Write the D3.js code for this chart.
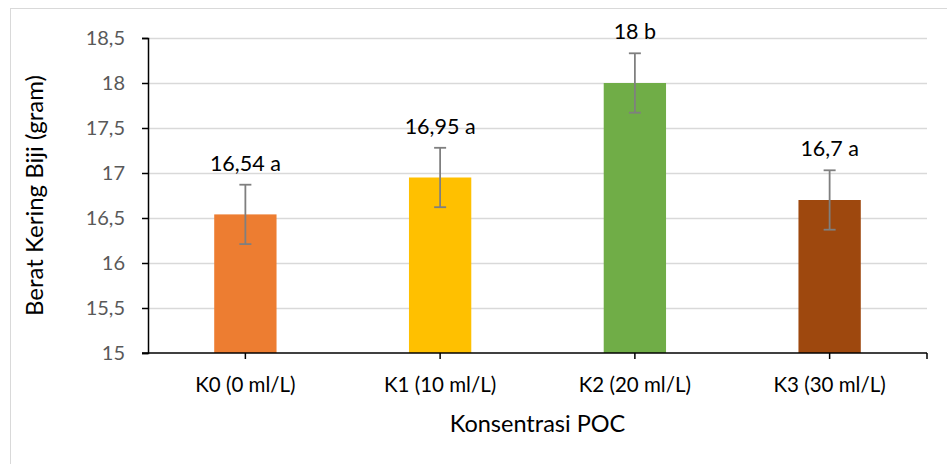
<!DOCTYPE html>
<html><head><meta charset="utf-8">
<script src="https://cdn.jsdelivr.net/npm/d3@7"></script>
<style>body{margin:0;background:#fff}svg{display:block}text{font-family:Lato,"Open Sans",sans-serif}</style>
</head><body><svg id="c" width="947" height="464"></svg>
<script>
const categories = ["K0 (0 ml/L)", "K1 (10 ml/L)", "K2 (20 ml/L)", "K3 (30 ml/L)"];
const values = [16.54, 16.95, 18, 16.7];
const errors = [0.33, 0.33, 0.33, 0.33];
const labels = ["16,54 a", "16,95 a", "18 b", "16,7 a"];
const colors = ["#ED7D31", "#FFC000", "#70AD47", "#9E480E"];
const yTicks = [15, 15.5, 16, 16.5, 17, 17.5, 18, 18.5];
const yTickLabels = ["15", "15,5", "16", "16,5", "17", "17,5", "18", "18,5"];
const xTitle = "Konsentrasi POC";
const yTitle = "Berat Kering Biji (gram)";

const svg = d3.select("#c");
const m = {l:148, r:927, t:38, b:353};
svg.append("rect").attr("x",10.5).attr("y",8.5).attr("width",960).attr("height",480)
  .attr("fill","#fff").attr("stroke","#d9d9d9").attr("stroke-width",1);

const x = d3.scaleBand().domain(categories).range([m.l, m.r]).paddingInner(0.68).paddingOuter(0.34);
const y = d3.scaleLinear().domain([15, 18.5]).range([m.b, m.t]);

// gridlines
svg.append("g").selectAll("line").data(yTicks.slice(1)).join("line")
  .attr("x1", m.l).attr("x2", m.r).attr("y1", d=>Math.round(y(d))+0.5).attr("y2", d=>Math.round(y(d))+0.5)
  .attr("stroke","#d9d9d9").attr("stroke-width",1.5);

// bars
svg.append("g").selectAll("rect").data(values).join("rect")
  .attr("x",(d,i)=>x(categories[i])).attr("width",x.bandwidth())
  .attr("y",d=>y(d)).attr("height",d=>y(15)-y(d)).attr("fill",(d,i)=>colors[i]);

// y axis
const yAxis = d3.axisLeft(y).tickValues(yTicks).tickFormat((d,i)=>yTickLabels[i]).tickSize(6).tickPadding(17);
const gy = svg.append("g").attr("transform",`translate(${m.l},0)`).call(yAxis);
gy.select(".domain").attr("stroke","#000").attr("stroke-width",1.5);
gy.selectAll(".tick line").attr("stroke","#000").attr("stroke-width",1.5);
gy.selectAll(".tick text").attr("fill","#595959").attr("font-size",20).attr("font-family","Lato");

// x axis
const gx = svg.append("g").attr("transform",`translate(0,${m.b})`);
gx.append("line").attr("x1",m.l-6).attr("x2",m.r).attr("stroke","#000").attr("stroke-width",1.5);
gx.selectAll("line.t").data(categories).join("line").attr("class","t")
  .attr("x1",d=>x(d)+x.bandwidth()/2).attr("x2",d=>x(d)+x.bandwidth()/2).attr("y1",0).attr("y2",6)
  .attr("stroke","#000").attr("stroke-width",1.5);
gx.append("line").attr("x1",m.r).attr("x2",m.r).attr("y1",0).attr("y2",6).attr("stroke","#000").attr("stroke-width",1.5);
gx.selectAll("text").data(categories).join("text")
  .attr("x",d=>x(d)+x.bandwidth()/2).attr("y",39).attr("text-anchor","middle")
  .attr("fill","#000").attr("font-size",20.5).text(d=>d);

// error bars
const eg = svg.append("g").attr("stroke","#7f7f7f").attr("stroke-width",1.8);
values.forEach((v,i)=>{
  const cx = x(categories[i]) + x.bandwidth()/2;
  eg.append("line").attr("x1",cx).attr("x2",cx).attr("y1",y(v+errors[i])).attr("y2",y(v-errors[i]));
  eg.append("line").attr("x1",cx-6).attr("x2",cx+6).attr("y1",y(v+errors[i])).attr("y2",y(v+errors[i]));
  eg.append("line").attr("x1",cx-6).attr("x2",cx+6).attr("y1",y(v-errors[i])).attr("y2",y(v-errors[i]));
});

// value labels
svg.append("g").selectAll("text").data(values).join("text")
  .attr("x",(d,i)=>x(categories[i])+x.bandwidth()/2).attr("y",(d,i)=>y(d+errors[i])-14)
  .attr("text-anchor","middle").attr("font-size",21.5).attr("fill","#000").text((d,i)=>labels[i]);

// titles
svg.append("text").attr("x",(m.l+m.r)/2).attr("y",432).attr("text-anchor","middle")
  .attr("font-size",23.5).attr("fill","#000").text(xTitle);
svg.append("text").attr("transform",`translate(43,${(m.t+m.b)/2}) rotate(-90)`).attr("text-anchor","middle")
  .attr("font-size",24).attr("fill","#000").text(yTitle);
</script></body></html>
